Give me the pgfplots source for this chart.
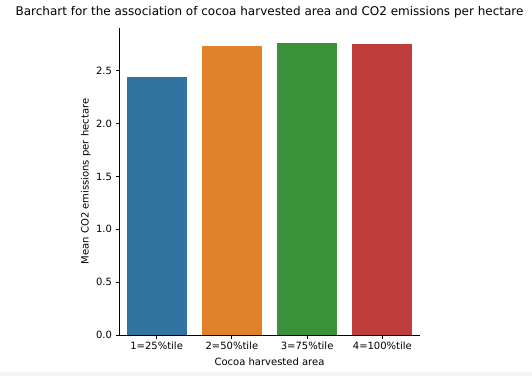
\documentclass[border=0pt]{standalone}
\usepackage{fontspec}
\setmainfont{DejaVu Sans}
\usepackage{pgfplots}
\pgfplotsset{compat=1.18}
\definecolor{cA}{HTML}{3274A1}
\definecolor{cB}{HTML}{E1812C}
\definecolor{cC}{HTML}{3A923A}
\definecolor{cD}{HTML}{C03D3E}
\begin{document}
\begin{tikzpicture}[x=1pt,y=1pt]
\useasboundingbox (0,0) rectangle (532,376);
\fill[white] (0,0) rectangle (532,376);
\fill[black!4] (0,0) rectangle (532,4);
\begin{axis}[
  at={(119pt,41pt)}, anchor=south west,
  scale only axis, width=301pt, height=307pt,
  xmin=-0.5, xmax=3.5, ymin=0, ymax=2.904,
  axis lines*=left,
  axis line style={black, line width=0.8pt},
  ybar, bar width=60pt,
  xtick={0,1,2,3},
  xticklabels={1=25\%tile,2=50\%tile,3=75\%tile,4=100\%tile},
  ytick={0,0.5,1,1.5,2,2.5},
  yticklabel style={/pgf/number format/.cd, fixed, fixed zerofill, precision=1},
  /pgf/number format/assume math mode=true,
  tick align=outside, major tick length=3.5pt,
  tick style={black, line width=0.8pt},
  tick label style={font=\fontsize{10}{12}\selectfont},
  label style={font=\fontsize{10}{12}\selectfont},
  xlabel={Cocoa harvested area},
  ylabel={Mean CO2 emissions per hectare},
  xlabel style={at={(axis description cs:0.5,-0.087)}, anchor=center},
  ylabel style={at={(axis description cs:-0.11,0.5)}, anchor=center},
  title={Barchart for the association of cocoa harvested area and CO2 emissions per hectare},
  title style={at={(axis description cs:0.5,1.0326)}, anchor=center, font=\fontsize{12}{14}\selectfont},
]
\addplot[fill=cA, draw=none, bar shift=0pt] coordinates {(0,2.438)};
\addplot[fill=cB, draw=none, bar shift=0pt] coordinates {(1,2.734)};
\addplot[fill=cC, draw=none, bar shift=0pt] coordinates {(2,2.763)};
\addplot[fill=cD, draw=none, bar shift=0pt] coordinates {(3,2.753)};
\end{axis}
\end{tikzpicture}
\end{document}
